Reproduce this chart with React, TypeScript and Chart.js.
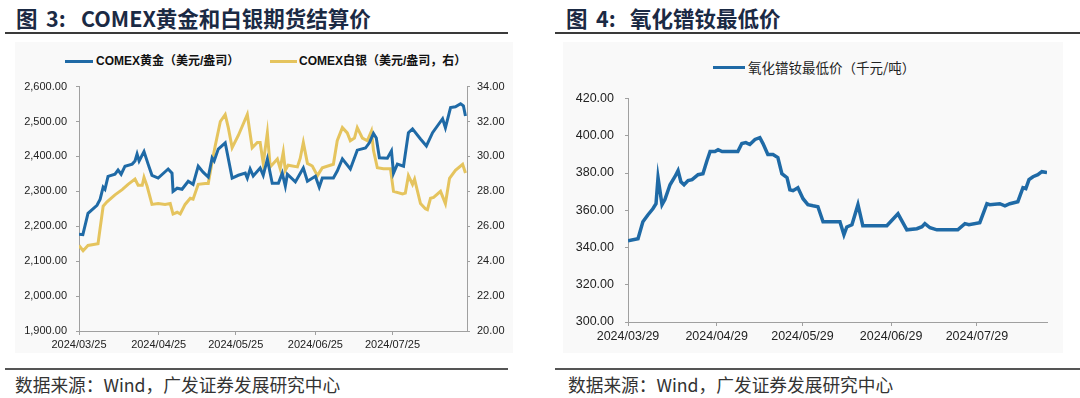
import React, { useEffect, useRef } from 'react';
import { Chart, registerables } from 'chart.js';

Chart.register(...registerables);

// ---------- Figure 3: COMEX gold & silver (x = days since 2024/03/25) ----------
const goldDays = [0, 1.5, 3.5, 7, 8.2, 9.4, 10.1, 11.3, 14, 15.2, 16.4, 17.9, 20.7, 21.8, 22.6, 23.4, 25.3, 26.9, 28.4, 30.8, 34.7, 36.2, 36.6, 38.2, 40.1, 42.5, 44.4, 46.4, 48.3, 50.3, 51.8, 52.6, 54.2, 56.9, 59.6, 62, 64.7, 65.5, 66.6, 67.8, 70.5, 71.7, 73.3, 75.2, 77.6, 79.1, 80.3, 81.1, 84.2, 87.3, 88.9, 92, 93.5, 94.7, 99, 100.5, 102.5, 105.6, 108.3, 111.5, 113, 114.6, 115.7, 116.9, 120, 121.6, 122.4, 123.9, 126.3, 128.2, 129.8, 132.9, 135.2, 137.6, 141.5, 142.6, 144.6, 146.5, 148.5, 149.6, 150.4];
const goldPrice = [2177, 2176, 2237, 2260, 2277, 2312, 2306, 2343, 2349, 2361, 2349, 2372, 2378, 2387, 2407, 2387, 2414, 2378, 2346, 2338, 2364, 2352, 2300, 2309, 2306, 2329, 2320, 2372, 2355, 2341, 2396, 2387, 2421, 2439, 2338, 2346, 2352, 2338, 2364, 2344, 2367, 2346, 2392, 2323, 2323, 2352, 2315, 2349, 2327, 2367, 2329, 2343, 2312, 2338, 2338, 2358, 2393, 2364, 2418, 2424, 2439, 2466, 2453, 2396, 2395, 2416, 2352, 2378, 2372, 2468, 2479, 2450, 2430, 2468, 2508, 2482, 2540, 2542, 2551, 2545, 2516];
const silverDays = [0, 1.6, 3.5, 7.4, 9.4, 10.9, 14, 16.8, 19.1, 21.8, 23, 24.6, 25.3, 26.5, 28.4, 30.8, 33.5, 35.5, 36.6, 38.2, 39.4, 41.3, 43.3, 44.4, 46.4, 49.1, 50.3, 51.8, 53, 55, 56.9, 58.1, 59.6, 62, 65.5, 67.4, 69.4, 70.5, 71.7, 73.3, 74.4, 77.2, 78.3, 79.5, 80.3, 81.4, 85, 86.1, 87.3, 88.9, 90.8, 92.8, 94.7, 99, 100.5, 102.5, 104.4, 105.6, 107.2, 108.3, 110.3, 112.2, 113.8, 114.6, 116.1, 118.5, 121.2, 122.4, 125.9, 127, 128.2, 129.8, 130.6, 132.9, 134.8, 135.6, 136.8, 138, 140.7, 142.6, 144.2, 146.5, 149.3, 150.4];
const silverPrice = [24.9, 24.6, 24.9, 25.0, 27.15, 27.4, 27.8, 28.1, 28.4, 28.7, 28.35, 28.35, 28.8, 28.3, 27.25, 27.3, 27.25, 27.3, 26.7, 26.8, 26.7, 27.25, 27.6, 27.55, 28.4, 28.45, 28.45, 29.7, 30.6, 32.0, 32.4, 31.65, 30.5, 31.2, 32.4, 30.5, 30.8, 30.8, 29.6, 31.35, 29.4, 29.85, 29.3, 30.25, 29.2, 29.5, 29.4, 29.9, 30.8, 29.6, 29.45, 28.9, 29.35, 29.55, 30.9, 31.65, 31.35, 30.9, 31.05, 31.65, 31.05, 30.9, 31.45, 30.35, 29.35, 29.3, 29.3, 28.0, 27.85, 27.9, 28.9, 28.4, 28.7, 27.3, 27.0, 26.95, 27.6, 27.65, 28.0, 27.3, 28.75, 29.2, 29.55, 29.05];
const goldTickDays = [0, 31, 61, 92, 122];
const goldTickLabels = ['2024/03/25', '2024/04/25', '2024/05/25', '2024/06/25', '2024/07/25'];

// ---------- Figure 4: PrNd oxide lowest price (x = days since 2024/03/29) ----------
const ndDays = [0, 3.5, 5.2, 7, 8.7, 9.8, 10.5, 11.9, 12.9, 14.7, 16.4, 17.5, 18.5, 19.6, 21, 22.4, 24.5, 26.2, 27.6, 28.7, 30.4, 31.5, 32.9, 38.4, 39.8, 41.2, 42.6, 44.4, 46.1, 47.2, 48.9, 50.7, 52.4, 53.8, 55.6, 56.6, 57.7, 59.4, 61.2, 62.9, 64.7, 66.4, 68.2, 74.1, 75.5, 76.5, 78.3, 80.4, 82.1, 90.5, 94.4, 97.5, 101, 102.8, 103.8, 105.6, 108, 115.3, 117.8, 119.2, 123, 125.5, 126.5, 130, 131.8, 133.5, 136.3, 138.1, 139.1, 140.2, 141.6, 143.3, 144.7, 146.5];
const ndPrice = [343.6, 344.7, 353.8, 357.6, 360.8, 363.5, 377.5, 363, 365.7, 373.7, 378, 381.3, 375.3, 373.7, 375.9, 376.4, 379.1, 379.6, 386.6, 391.5, 391.5, 392.5, 391.5, 391.5, 395.8, 396.3, 395.3, 398, 399, 395.8, 389.9, 389.9, 388.3, 379.6, 377.5, 371, 370.5, 372.1, 366.2, 363, 362.4, 361.9, 353.8, 353.8, 346.8, 351, 352.2, 363, 351.7, 351.7, 358.1, 349.5, 350.1, 351.2, 352.8, 350.6, 349.5, 349.5, 352.8, 352.2, 353.3, 363.5, 363, 363.5, 362.4, 363.5, 364.6, 372.1, 371.6, 376.4, 378, 379.1, 380.7, 380.2];
const ndTickDays = [0, 31, 61, 92, 122];
const ndTickLabels = ['2024/03/29', '2024/04/29', '2024/05/29', '2024/06/29', '2024/07/29'];

const BLUE = '#1f6aa6';
const GOLDC = '#e5c45e';
const AXIS = '#a0a0a0';
const TICK_COLOR = '#222';
const LATIN = '"Liberation Sans", Arial, "Noto Sans CJK SC", sans-serif';
const CJK = '"Noto Sans CJK SC", "Liberation Sans", sans-serif';

const pts = (xs: number[], ys: number[]) => xs.map((x, i) => ({ x, y: ys[i] }));

function xAxis(tickDays: number[], tickLabels: string[], max: number, fontSize: number, height: number) {
  return {
    type: 'linear' as const,
    min: 0,
    max,
    afterBuildTicks: (s: any) => {
      s.ticks = tickDays.map((v) => ({ value: v }));
    },
    afterFit: (s: any) => {
      s.height = height;
    },
    ticks: {
      autoSkip: false,
      maxRotation: 0,
      padding: 3,
      color: TICK_COLOR,
      font: { family: LATIN, size: fontSize },
      callback: (v: any) => {
        const i = tickDays.indexOf(Number(v));
        return i >= 0 ? tickLabels[i] : '';
      },
    },
    grid: { display: true, drawOnChartArea: false, drawTicks: true, tickLength: 4, color: AXIS },
    border: { display: true, color: AXIS, width: 1 },
  };
}

function yAxis(pos: 'left' | 'right', min: number, max: number, step: number, width: number, padding: number, fontSize: number, fmt: (v: number) => string) {
  return {
    type: 'linear' as const,
    position: pos,
    min,
    max,
    afterFit: (s: any) => {
      s.width = width;
    },
    ticks: {
      stepSize: step,
      padding,
      color: TICK_COLOR,
      font: { family: LATIN, size: fontSize },
      callback: (v: any) => fmt(Number(v)),
    },
    grid: { display: true, drawOnChartArea: false, drawTicks: true, tickLength: 3, color: AXIS },
    border: { display: true, color: AXIS, width: 1 },
  };
}

export default function App() {
  const leftRef = useRef<HTMLCanvasElement | null>(null);
  const rightRef = useRef<HTMLCanvasElement | null>(null);

  useEffect(() => {
    const charts: Chart[] = [];
    if (leftRef.current) {
      charts.push(
        new Chart(leftRef.current, {
          type: 'line',
          data: {
            datasets: [
              {
                label: 'COMEX黄金（美元/盎司）',
                data: pts(goldDays, goldPrice),
                borderColor: BLUE,
                backgroundColor: BLUE,
                borderWidth: 3,
                pointRadius: 0,
                tension: 0,
                yAxisID: 'y',
              },
              {
                label: 'COMEX白银（美元/盎司，右）',
                data: pts(silverDays, silverPrice),
                borderColor: GOLDC,
                backgroundColor: GOLDC,
                borderWidth: 3,
                pointRadius: 0,
                tension: 0,
                yAxisID: 'y1',
              },
            ],
          },
          options: {
            responsive: false,
            animation: false,
            layout: { padding: { top: 10, left: 0, right: 0, bottom: 0 } },
            plugins: { legend: { display: false }, tooltip: { enabled: false } },
            scales: {
              x: xAxis(goldTickDays, goldTickLabels, 151, 11, 26),
              y: yAxis('left', 1900, 2600, 100, 64, 9, 11, (v) =>
                v.toLocaleString('en-US', { minimumFractionDigits: 2, maximumFractionDigits: 2 })
              ),
              y1: yAxis('right', 20, 34, 2, 48, 7, 11, (v) => v.toFixed(2)),
            },
          } as any,
        })
      );
    }
    if (rightRef.current) {
      charts.push(
        new Chart(rightRef.current, {
          type: 'line',
          data: {
            datasets: [
              {
                label: '氧化镨钕最低价（千元/吨）',
                data: pts(ndDays, ndPrice),
                borderColor: BLUE,
                backgroundColor: BLUE,
                borderWidth: 3.5,
                pointRadius: 0,
                tension: 0,
              },
            ],
          },
          options: {
            responsive: false,
            animation: false,
            layout: { padding: { top: 10, left: 0, right: 18, bottom: 0 } },
            plugins: { legend: { display: false }, tooltip: { enabled: false } },
            scales: {
              x: xAxis(ndTickDays, ndTickLabels, 146.5, 12.5, 35),
              y: yAxis('left', 300, 420, 20, 63, 11, 12.5, (v) => v.toFixed(2)),
            },
          } as any,
        })
      );
    }
    return () => charts.forEach((c) => c.destroy());
  }, []);

  const abs = (s: React.CSSProperties): React.CSSProperties => ({ position: 'absolute', ...s });
  const titleStyle: React.CSSProperties = {
    fontFamily: CJK,
    fontWeight: 700,
    fontSize: 21.5,
    lineHeight: '25px',
    color: '#1b2a44',
    whiteSpace: 'nowrap',
  };
  const footStyle: React.CSSProperties = {
    fontFamily: CJK,
    fontSize: 17.7,
    lineHeight: '20px',
    color: '#333',
    whiteSpace: 'nowrap',
  };
  const legendText: React.CSSProperties = {
    fontFamily: LATIN,
    fontWeight: 700,
    fontSize: 12,
    lineHeight: '14px',
    color: '#111',
    whiteSpace: 'nowrap',
  };

  return (
    <div style={abs({ left: 0, top: 0, width: 1080, height: 398, background: '#fff', overflow: 'hidden' })}>
      {/* Left panel */}
      <div style={abs({ left: 16, top: 5, ...titleStyle })}>图</div>
      <div style={abs({ left: 46, top: 5, ...titleStyle })}>3:</div>
      <div style={abs({ left: 81, top: 5, ...titleStyle })}>COMEX黄金和白银期货结算价</div>
      <div style={abs({ left: 5, top: 32, width: 503, height: 2, background: '#3a3a3a' })} />
      <div style={abs({ left: 15, top: 42, width: 498, height: 311, background: '#f9f9f9' })} />
      <div style={abs({ left: 65, top: 60, width: 28, height: 3, background: BLUE })} />
      <div style={abs({ left: 96, top: 54, ...legendText })}>COMEX黄金（美元/盎司）</div>
      <div style={abs({ left: 270, top: 60, width: 27, height: 3, background: GOLDC })} />
      <div style={abs({ left: 299, top: 54, ...legendText })}>COMEX白银（美元/盎司，右）</div>
      <canvas ref={leftRef} width={500} height={286} style={abs({ left: 15, top: 71, width: 500, height: 286 })} />
      <div style={abs({ left: 5, top: 368, width: 503, height: 2, background: '#555' })} />
      <div style={abs({ left: 15, top: 374, ...footStyle })}>数据来源：Wind，广发证券发展研究中心</div>

      {/* Right panel */}
      <div style={abs({ left: 566, top: 5, ...titleStyle })}>图</div>
      <div style={abs({ left: 596, top: 5, ...titleStyle })}>4:</div>
      <div style={abs({ left: 630, top: 5, ...titleStyle })}>氧化镨钕最低价</div>
      <div style={abs({ left: 555, top: 32, width: 525, height: 2, background: '#3a3a3a' })} />
      <div style={abs({ left: 563, top: 42, width: 500, height: 311, background: '#f9f9f9' })} />
      <div style={abs({ left: 713, top: 66, width: 32, height: 3, background: BLUE })} />
      <div style={abs({ left: 748, top: 59, fontFamily: CJK, fontSize: 13.5, lineHeight: '16px', color: '#222', whiteSpace: 'nowrap' })}>
        氧化镨钕最低价（千元/吨）
      </div>
      <canvas ref={rightRef} width={500} height={277} style={abs({ left: 565, top: 80, width: 500, height: 277 })} />
      <div style={abs({ left: 555, top: 368, width: 525, height: 2, background: '#555' })} />
      <div style={abs({ left: 568, top: 374, ...footStyle })}>数据来源：Wind，广发证券发展研究中心</div>
    </div>
  );
}
